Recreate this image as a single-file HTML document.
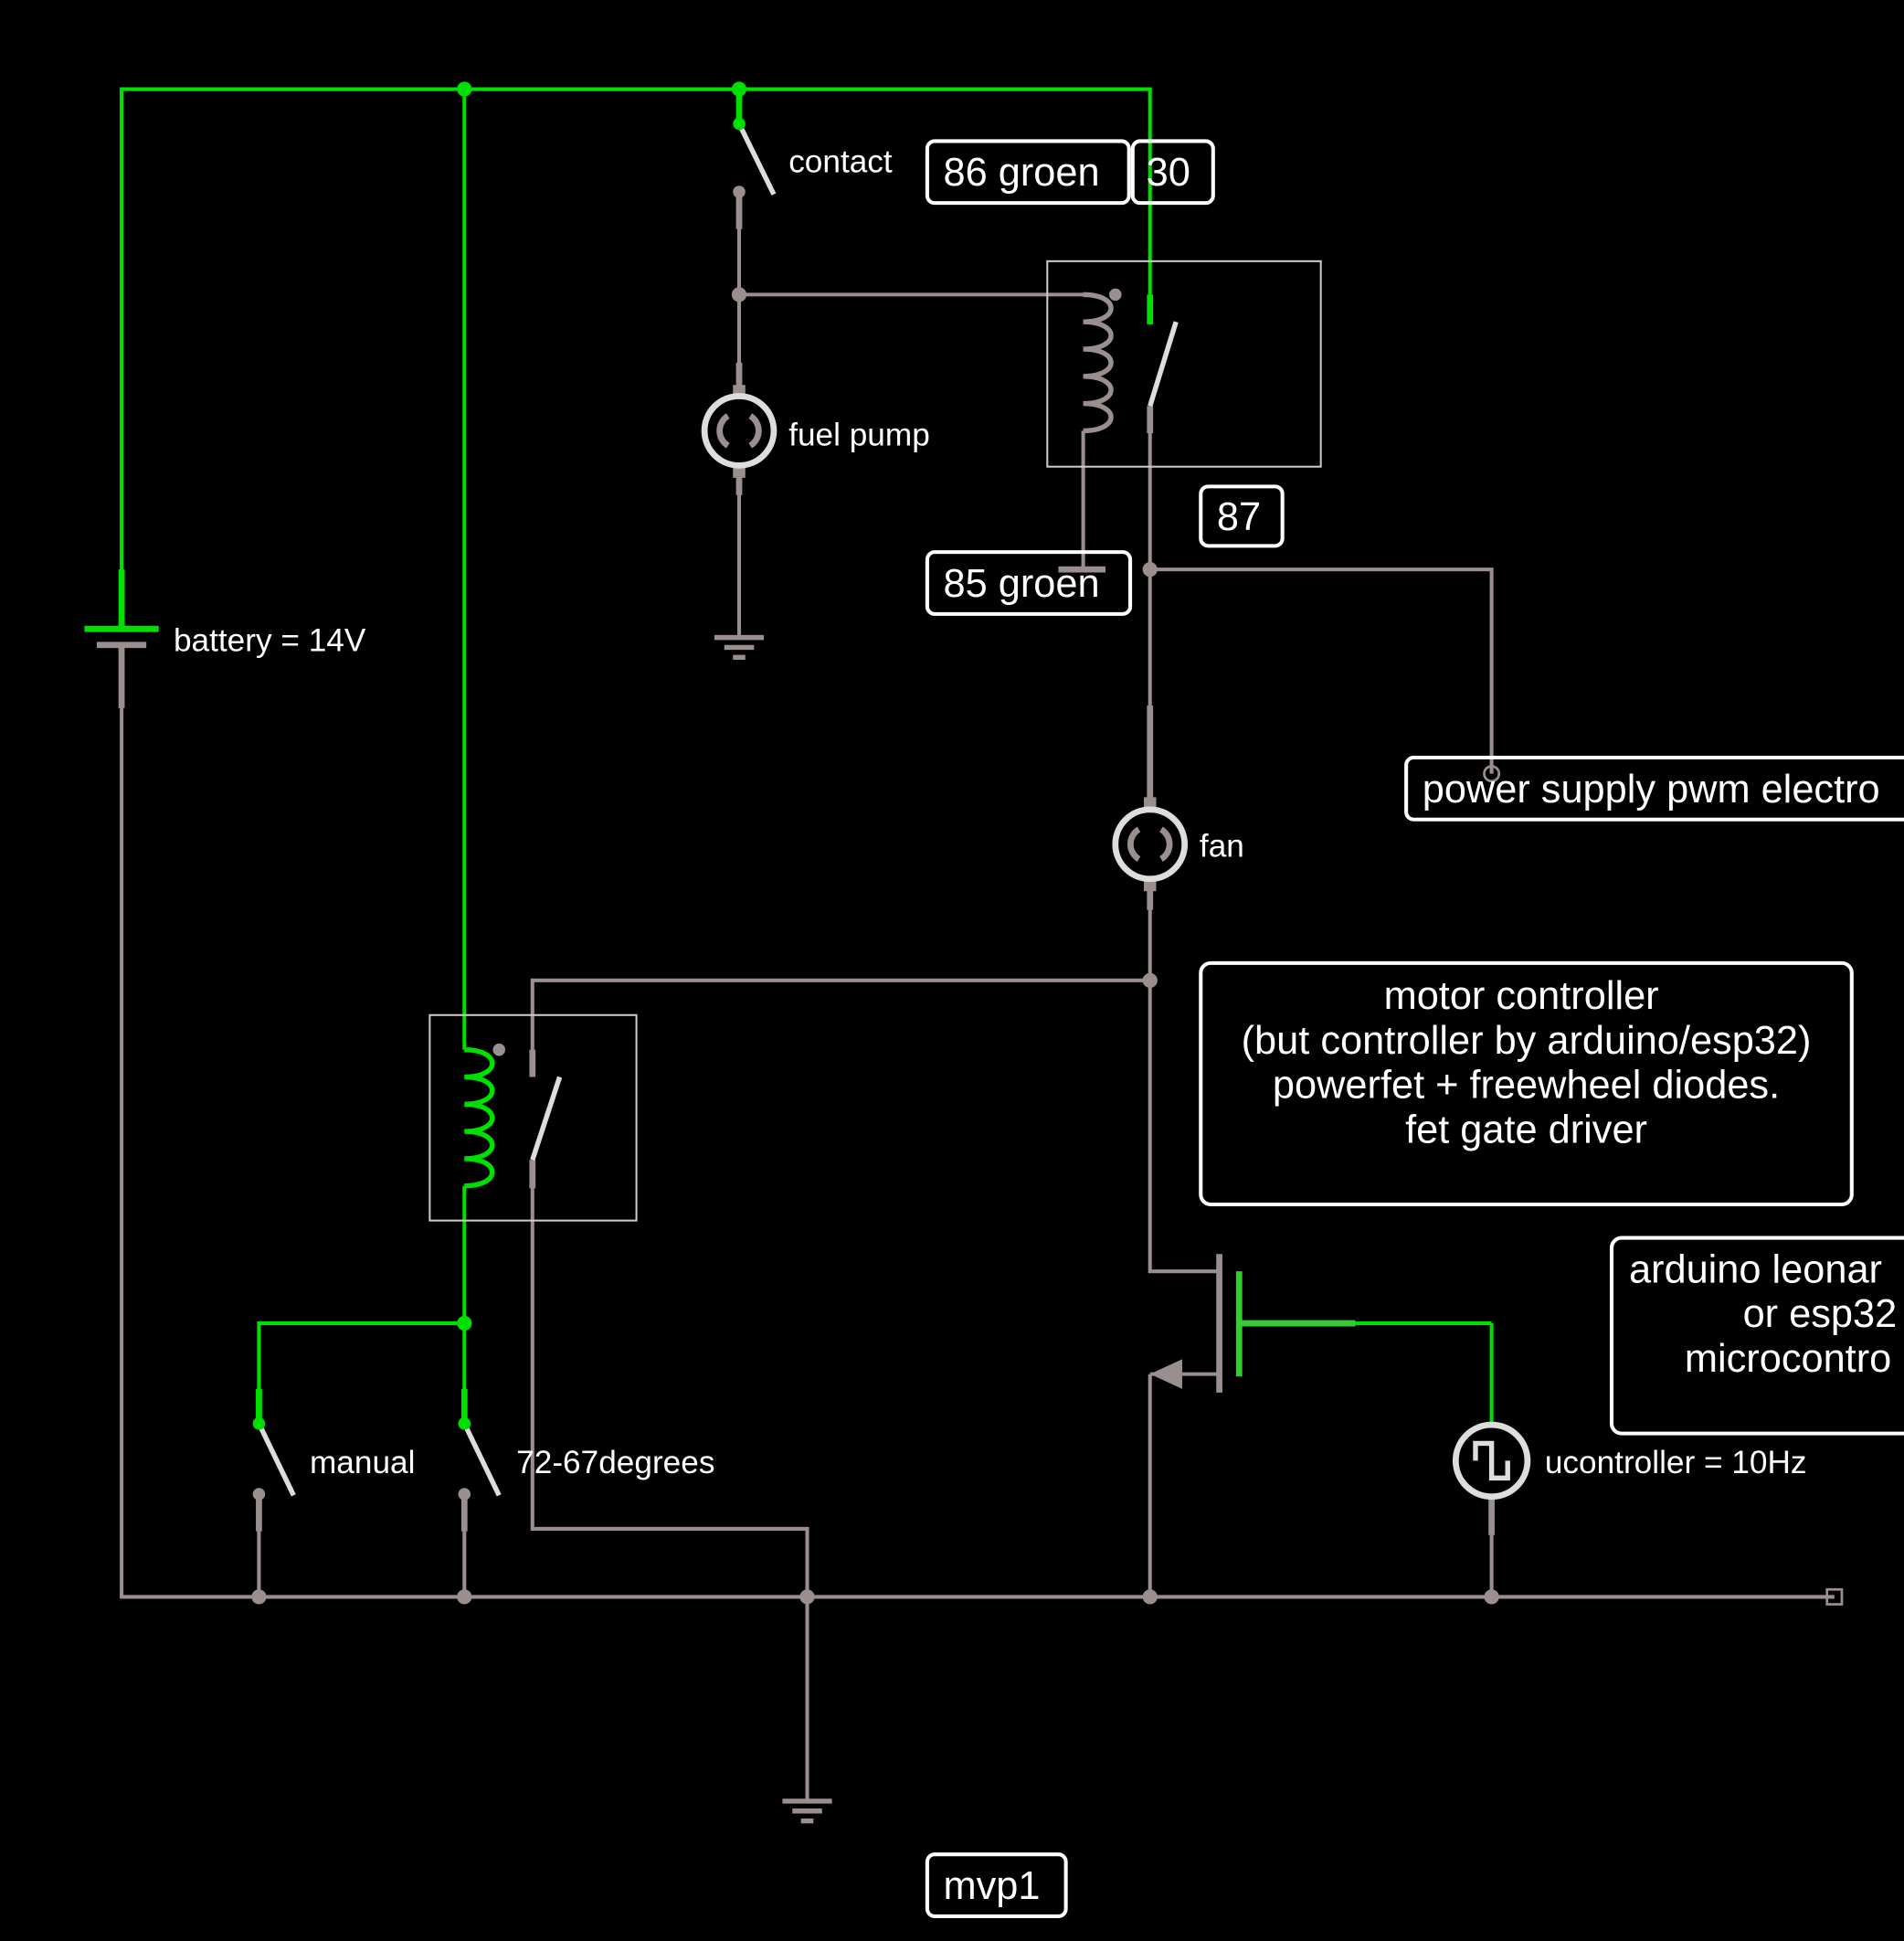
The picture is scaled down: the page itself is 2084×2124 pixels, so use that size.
<!DOCTYPE html>
<html><head><meta charset="utf-8"><style>
html,body{margin:0;padding:0;background:#000;overflow:hidden}
svg{display:block}
text{font-family:"Liberation Sans",sans-serif;fill:#fff}
</style></head><body>
<svg width="2084" height="2124" viewBox="0 0 1538 1568" xmlns="http://www.w3.org/2000/svg">
<rect width="1538" height="1568" fill="#000"/>
<g fill="none" stroke-width="3">
<g stroke="#00e000">
<polyline points="98,508 98,72 929,72 929,262"/>
<polyline points="375,72 375,848"/>
<polyline points="375,958 375,1150"/>
<polyline points="209,1150 209,1069 375,1069"/>
<line x1="597" y1="72" x2="597" y2="100"/>
<line x1="1001" y1="1069" x2="1205" y2="1069"/>
<line x1="1205" y1="1069" x2="1205" y2="1150"/>
</g>
<g stroke="#00e000" stroke-width="5">
<line x1="98" y1="460" x2="98" y2="508"/>
<line x1="929" y1="238" x2="929" y2="262"/>
<line x1="209" y1="1122" x2="209" y2="1150"/>
<line x1="375" y1="1122" x2="375" y2="1150"/>
<line x1="597" y1="72" x2="597" y2="100"/>
</g>
<g stroke="#9a8e8e">
<polyline points="98,521 98,1290 1482,1290"/>
<line x1="209" y1="1207" x2="209" y2="1290"/>
<line x1="375" y1="1207" x2="375" y2="1290"/>
<polyline points="597,155 597,318"/>
<polyline points="597,378 597,515"/>
<polyline points="597,238 875,238"/>
<polyline points="875,348 875,460"/>
<polyline points="929,328 929,654"/>
<polyline points="929,710 929,1027 985,1027"/>
<polyline points="929,1110 929,1290"/>
<polyline points="929,460 1205,460 1205,625"/>
<polyline points="929,792 430,792 430,870"/>
<polyline points="430,937 430,1235 652,1235 652,1455"/>
<line x1="1205" y1="1210" x2="1205" y2="1290"/>
<line x1="985" y1="1013" x2="985" y2="1125" stroke-width="5"/>
<line x1="929" y1="1110" x2="985" y2="1110"/>
</g>
<g stroke="#9a8e8e" stroke-width="5">
<line x1="98" y1="521" x2="98" y2="572"/>
<line x1="597" y1="155" x2="597" y2="185"/>
<line x1="209" y1="1207" x2="209" y2="1237"/>
<line x1="375" y1="1207" x2="375" y2="1237"/>
<line x1="597" y1="293" x2="597" y2="320"/>
<line x1="597" y1="376" x2="597" y2="400"/>
<line x1="929" y1="570" x2="929" y2="654"/>
<line x1="929" y1="710" x2="929" y2="735"/>
<line x1="929" y1="328" x2="929" y2="350"/>
<line x1="430" y1="848" x2="430" y2="870"/>
<line x1="430" y1="937" x2="430" y2="960"/>
<line x1="1205" y1="1210" x2="1205" y2="1240"/>
</g>
<g stroke="#9a8e8e" stroke-width="10">
<line x1="597" y1="311" x2="597" y2="322"/>
<line x1="597" y1="374" x2="597" y2="386"/>
<line x1="929" y1="644" x2="929" y2="656"/>
<line x1="929" y1="708" x2="929" y2="720"/>
</g>
<rect x="846" y="211" width="221" height="166" stroke="#ccc" stroke-width="1.5"/>
<rect x="347" y="820" width="167" height="166" stroke="#ccc" stroke-width="1.5"/>
<path d="M875,238 c30,0 30,22 0,22 c30,0 30,22 0,22 c30,0 30,22 0,22 c30,0 30,22 0,22 c30,0 30,22 0,22" stroke="#9a8e8e" stroke-width="4"/>
<path d="M375,848 c30,0 30,22 0,22 c30,0 30,22 0,22 c30,0 30,22 0,22 c30,0 30,22 0,22 c30,0 30,22 0,22" stroke="#00e000" stroke-width="4"/>
<g stroke="#ddd" stroke-width="4">
<line x1="929" y1="328" x2="950" y2="260"/>
<line x1="430" y1="937" x2="452" y2="870"/>
<line x1="597" y1="100" x2="625" y2="157"/>
<line x1="209" y1="1150" x2="237" y2="1208"/>
<line x1="375" y1="1150" x2="403" y2="1208"/>
</g>
<line x1="68" y1="508" x2="128" y2="508" stroke="#00e000" stroke-width="5"/>
<line x1="78" y1="521" x2="118" y2="521" stroke="#9a8e8e" stroke-width="5"/>
<line x1="855" y1="460" x2="893" y2="460" stroke="#9a8e8e" stroke-width="5"/>
<g stroke="#9a8e8e" stroke-width="4">
<line x1="577" y1="515" x2="617" y2="515"/><line x1="585" y1="523" x2="609" y2="523"/><line x1="592" y1="531" x2="602" y2="531"/>
<line x1="632" y1="1455" x2="672" y2="1455"/><line x1="640" y1="1463" x2="664" y2="1463"/><line x1="647" y1="1471" x2="657" y2="1471"/>
</g>
<line x1="1001" y1="1027" x2="1001" y2="1112" stroke="#33cc33" stroke-width="5"/>
<line x1="1001" y1="1069" x2="1095" y2="1069" stroke="#33cc33" stroke-width="5"/>
<circle cx="597" cy="348" r="28" stroke="#ddd" stroke-width="5"/>
<circle cx="929" cy="682" r="28" stroke="#ddd" stroke-width="5"/>
<path d="M588,336 a14,14 0 0 0 0,24 M606,336 a14,14 0 0 1 0,24" stroke="#9a8e8e" stroke-width="5"/>
<path d="M920,670 a14,14 0 0 0 0,24 M938,670 a14,14 0 0 1 0,24" stroke="#9a8e8e" stroke-width="5"/>
<circle cx="1205" cy="1180" r="29" stroke="#ddd" stroke-width="5"/>
<polyline points="1192,1180 1192,1166 1205,1166 1205,1194 1218,1194 1218,1180" stroke="#ddd" stroke-width="4"/>
<circle cx="1205" cy="625" r="6" stroke="#9a8e8e" stroke-width="2"/>
<rect x="1476" y="1284" width="12" height="12" stroke="#9a8e8e" stroke-width="2"/>
<g stroke="#fff" stroke-width="3">
<rect x="749" y="114" width="163" height="50" rx="6"/>
<rect x="915" y="114" width="65" height="50" rx="6"/>
<rect x="970" y="393" width="66" height="48" rx="6"/>
<rect x="749" y="446" width="164" height="50" rx="6"/>
<rect x="1136" y="612" width="420" height="50" rx="6"/>
<rect x="970" y="778" width="526" height="195" rx="8"/>
<rect x="1302" y="1000" width="260" height="158" rx="8"/>
<rect x="749" y="1498" width="112" height="50" rx="6"/>
</g>
</g>
<polygon points="929,1110 955,1098 955,1122" fill="#9a8e8e"/>
<g fill="#00e000"><circle cx="375" cy="72" r="6"/><circle cx="597" cy="72" r="6"/><circle cx="375" cy="1069" r="6"/><circle cx="597" cy="100" r="5"/><circle cx="209" cy="1150" r="5"/><circle cx="375" cy="1150" r="5"/></g>
<g fill="#9a8e8e"><circle cx="209" cy="1290" r="6"/><circle cx="375" cy="1290" r="6"/><circle cx="652" cy="1290" r="6"/><circle cx="929" cy="1290" r="6"/><circle cx="1205" cy="1290" r="6"/><circle cx="597" cy="238" r="6"/><circle cx="929" cy="460" r="6"/><circle cx="929" cy="792" r="6"/><circle cx="597" cy="155" r="5"/><circle cx="209" cy="1207" r="5"/><circle cx="375" cy="1207" r="5"/><circle cx="901" cy="238" r="5"/><circle cx="403" cy="848" r="5"/></g>
<g font-size="26">
<text x="140" y="526">battery = 14V</text>
<text x="637" y="139">contact</text>
<text x="637" y="360">fuel pump</text>
<text x="969" y="692">fan</text>
<text x="250" y="1190">manual</text>
<text x="417" y="1190">72-67degrees</text>
<text x="1248" y="1190">ucontroller = 10Hz</text>
</g>
<g font-size="32">
<text x="762" y="150">86 groen</text>
<text x="926" y="150">30</text>
<text x="983" y="428">87</text>
<text x="762" y="482">85 groen</text>
<text x="1149" y="648">power supply pwm electro</text>
<text x="762" y="1534">mvp1</text>
<g text-anchor="middle">
<text x="1229" y="815">motor controller</text>
<text x="1233" y="851">(but controller by arduino/esp32)</text>
<text x="1233" y="887">powerfet + freewheel diodes.</text>
<text x="1233" y="923">fet gate driver</text>
</g>
<text x="1316" y="1036">arduino leonar</text>
<text x="1408" y="1072">or esp32</text>
<text x="1361" y="1108">microcontro</text>
</g>
</svg>
</body></html>
